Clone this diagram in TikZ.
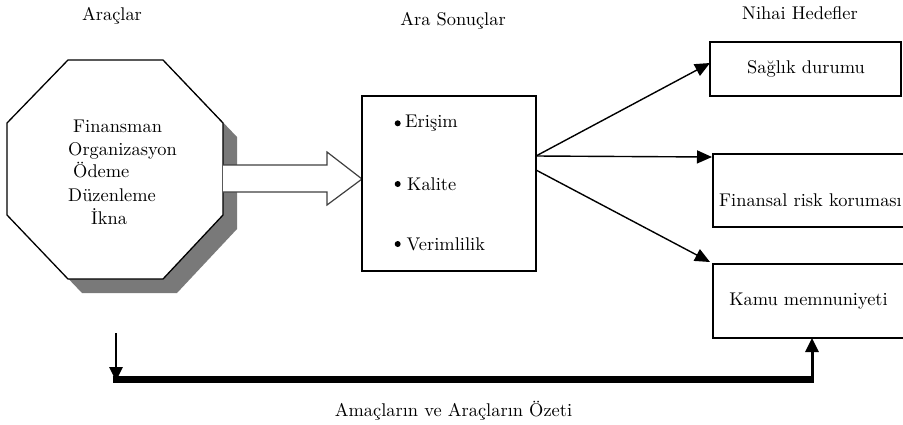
\documentclass[tikz,border=0pt]{standalone}
\usepackage{fontspec}
\setmainfont{lmroman10-regular}[Extension=.otf, BoldFont=lmroman10-bold]
\usetikzlibrary{arrows.meta,calc}
\begin{document}
\begin{tikzpicture}[x=1pt,y=-1pt,
  txt/.style={inner sep=0pt, anchor=base west, font=\fontsize{18.4}{22}\selectfont},
  ctxt/.style={txt, anchor=base},
  box/.style={draw, line width=1.6pt, fill=white, inner sep=0pt},
  conn/.style={line width=1.4pt, -{Triangle[length=15pt,width=13pt]}},
  bullet/.style={fill=black},
]
\clip (0,0) rectangle (903,424);
\fill[white] (0,0) rectangle (903,424);

% headings
\node[ctxt] (h1) at (112,20) {Araçlar};
\node[ctxt] (h2) at (453,25.5) {Ara Sonuçlar};
\node[ctxt] (h3) at (800,19) {Nihai Hedefler};

% octagon with shadow
\fill[gray!95!black, shift={(14,14)}] (68,60) -- (163,60) -- (223,123) -- (223,215) -- (163,279) -- (68,279) -- (7,215) -- (7,123) -- cycle;
\draw[line width=1.3pt, fill=white] (68,60) -- (163,60) -- (223,123) -- (223,215) -- (163,279) -- (68,279) -- (7,215) -- (7,123) -- cycle;
\node[txt] (a1) at (73,132) {Finansman};
\node[txt] (a2) at (68,155) {Organizasyon};
\node[txt] (a3) at (73,177.5) {Ödeme};
\node[txt] (a4) at (68,201) {Düzenleme};
\node[txt] (a5) at (91,224) {İkna};

% hollow arrow
\draw[line width=1.2pt, draw=black!75, fill=white, line join=miter]
  (223,165) -- (327,165) -- (327,152) -- (362,179) -- (327,205) -- (327,192) -- (223,192);

% middle box
\node[box, minimum width=174pt, minimum height=175pt] (mid) at (449,183.5) {};
\fill[bullet] (397.7,123.3) circle (3pt);
\fill[bullet] (397.7,184) circle (3pt);
\fill[bullet] (397.7,244) circle (3pt);
\node[txt] (m1) at (405,127) {Erişim};
\node[txt] (m2) at (407,190.5) {Kalite};
\node[txt] (m3) at (406.5,250) {Verimlilik};

% right boxes
\node[box, minimum width=191pt, minimum height=54pt] (b1) at (805.5,69) {};
\node[box, minimum width=197pt, minimum height=73pt] (b2) at (811.5,190.5) {};
\node[box, minimum width=197pt, minimum height=74pt] (b3) at (811.5,301) {};
\node[ctxt] (r1) at (806,73.3) {Sağlık durumu};
\node[ctxt] (r2) at (810.5,206.7) {Finansal risk koruması};
\node[ctxt] (r3) at (808.5,305) {Kamu memnuniyeti};

% connectors
\coordinate (o1) at (536,156);
\coordinate (o3) at (536,170);
\coordinate (t1) at (710,63);
\coordinate (t2) at (712,157);
\coordinate (t3) at (710,262);
\draw[conn] (o1) -- (t1);
\draw[conn] (o1) -- (t2);
\draw[conn] (o3) -- (t3);

% feedback loop
\coordinate (fs) at (116,333);
\coordinate (fe) at (116,381);
\coordinate (fl) at (112.5,379);
\coordinate (fr) at (813.5,379);
\coordinate (us) at (812,381);
\coordinate (ue) at (812,338);
\draw[line width=2.6pt, -{Triangle[length=14pt,width=13pt]}] (fs) -- (fe);
\draw[line width=7pt] (fl) -- (fr);
\draw[line width=3pt, -{Triangle[length=14pt,width=13pt]}] (us) -- (ue);

\node[ctxt] (bt) at (453.5,416.7) {Amaçların ve Araçların Özeti};
\end{tikzpicture}
\end{document}
